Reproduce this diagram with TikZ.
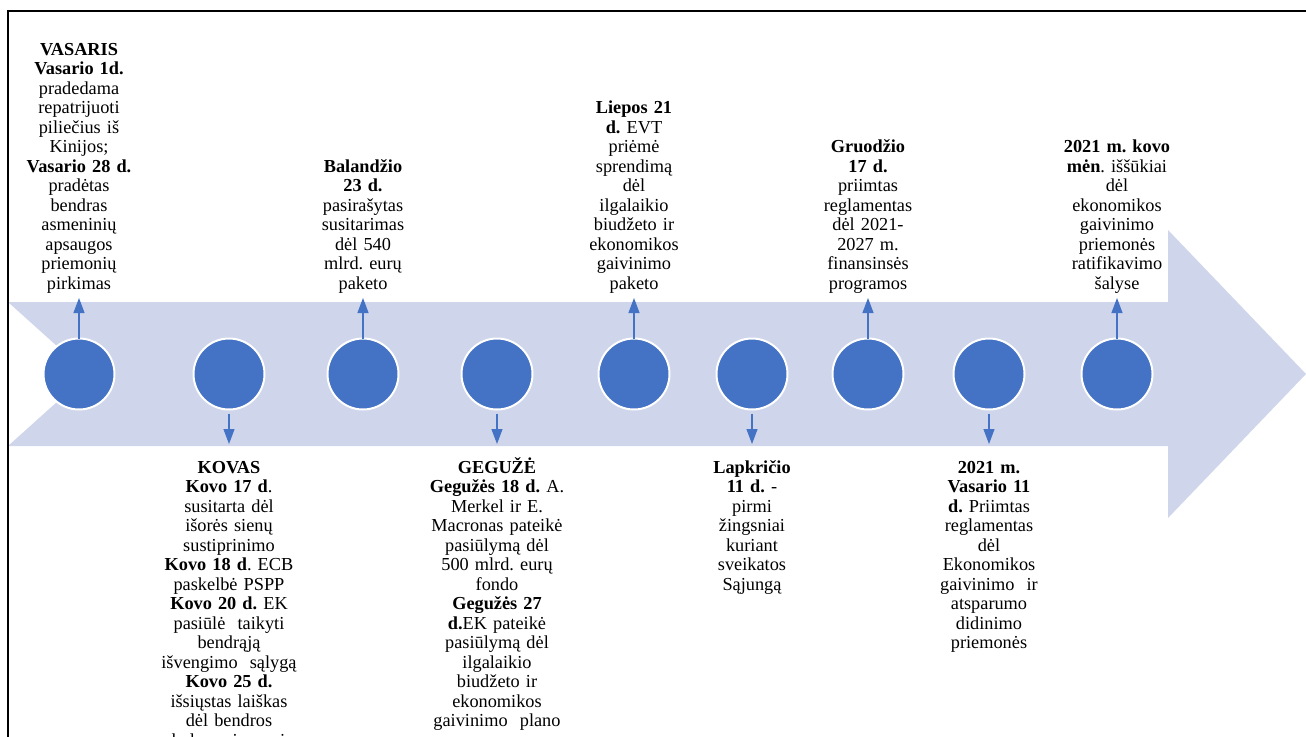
\documentclass[tikz,border=0pt]{standalone}
\usepackage{fontspec}
\setmainfont{Liberation Serif}
\usetikzlibrary{arrows.meta}
\definecolor{bandc}{HTML}{CFD5EA}
\definecolor{dotc}{HTML}{4472C4}
\frenchspacing
\begin{document}
\begin{tikzpicture}[x=1pt,y=-1pt,
  dot/.style={circle,fill=dotc,draw=white,line width=2pt,minimum size=71pt,inner sep=0pt,outer sep=0pt},
  arr/.style={draw=dotc,line width=1.1pt,-{Triangle[width=11pt,length=15pt]}},
  txt/.style={text width=200pt,execute at begin node=\centering\frenchspacing,inner sep=0pt,anchor=base,font=\fontsize{18.3}{19.5}\selectfont}]
\clip (0,0) rectangle (1306,736);
% band arrow
\fill[bandc] (8,302) -- (1168,302) -- (1168,230) -- (1306,374) -- (1168,518) -- (1168,446) -- (8,446) -- (88,374) -- cycle;
% frame
\draw[line width=1.5pt] (8,737) -- (8,11) -- (1310,11);
% circles
\node[dot] (c1) at (79,374) {};
\node[dot] (c2) at (229,374) {};
\node[dot] (c3) at (363,374) {};
\node[dot] (c4) at (497,374) {};
\node[dot] (c5) at (634,374) {};
\node[dot] (c6) at (752,374) {};
\node[dot] (c7) at (868,374) {};
\node[dot] (c8) at (989,374) {};
\node[dot] (c9) at (1117,374) {};
% arrow tips
\coordinate (t1) at (79,298);
\coordinate (t3) at (363,298);
\coordinate (t5) at (634,298);
\coordinate (t7) at (868,298);
\coordinate (t9) at (1117,298);
\coordinate (t2) at (229,444);
\coordinate (t4) at (497,444);
\coordinate (t6) at (752,444);
\coordinate (t8) at (989,444);
\draw[arr] (c1) -- (t1);
\draw[arr] (c3) -- (t3);
\draw[arr] (c5) -- (t5);
\draw[arr] (c7) -- (t7);
\draw[arr] (c9) -- (t9);
\draw[arr,shorten <=4pt] (c2) -- (t2);
\draw[arr,shorten <=4pt] (c4) -- (t4);
\draw[arr,shorten <=4pt] (c6) -- (t6);
\draw[arr,shorten <=4pt] (c8) -- (t8);
% texts top
\node[txt] (l1) at (79,55) {\textbf{VASARIS}\\\textbf{Vasario 1d.}\\pradedama\\repatrijuoti\\piliečius iš\\Kinijos;\\\textbf{Vasario 28 d.}\\pradėtas\\bendras\\asmeninių\\apsaugos\\priemonių\\pirkimas};
\node[txt] (l3) at (363,172) {\textbf{Balandžio}\\\textbf{23 d.}\\pasirašytas\\susitarimas\\dėl 540\\mlrd. eurų\\paketo};
\node[txt] (l5) at (634,113.5) {\textbf{Liepos 21}\\\textbf{d.} EVT\\priėmė\\sprendimą\\dėl\\ilgalaikio\\biudžeto ir\\ekonomikos\\gaivinimo\\paketo};
\node[txt] (l7) at (868,152.5) {\textbf{Gruodžio}\\\textbf{17 d.}\\priimtas\\reglamentas\\dėl 2021-\\2027 m.\\finansinsės\\programos};
\node[txt] (l9) at (1117,152.5) {\textbf{2021 m. kovo}\\\textbf{mėn}. iššūkiai\\dėl\\ekonomikos\\gaivinimo\\priemonės\\ratifikavimo\\šalyse};
% texts bottom
\node[txt] (l2) at (229,473) {\textbf{KOVAS}\\\textbf{Kovo 17 d}.\\susitarta dėl\\išorės sienų\\sustiprinimo\\\textbf{Kovo 18 d}. ECB\\paskelbė PSPP\\\textbf{Kovo 20 d.} EK\\pasiūlė\ \ taikyti\\bendrąją\\išvengimo\ \ sąlygą\\\textbf{Kovo 25 d.}\\išsiųstas laiškas\\dėl bendros\\skolos priemonės};
\node[txt] (l4) at (497,473) {\textbf{GEGUŽĖ}\\\textbf{Gegužės 18 d.} A.\\Merkel ir E.\\Macronas pateikė\\pasiūlymą dėl\\500 mlrd. eurų\\fondo\\\textbf{Gegužės 27}\\\textbf{d.}EK pateikė\\pasiūlymą dėl\\ilgalaikio\\biudžeto ir\\ekonomikos\\gaivinimo\ \ plano};
\node[txt] (l6) at (752,473) {\textbf{Lapkričio}\\\textbf{11 d.} -\\pirmi\\žingsniai\\kuriant\\sveikatos\\Sąjungą};
\node[txt] (l8) at (989,473) {\textbf{2021 m.}\\\textbf{Vasario 11}\\\textbf{d.} Priimtas\\reglamentas\\dėl\\Ekonomikos\\gaivinimo\ \ ir\\atsparumo\\didinimo\\priemonės};
\end{tikzpicture}
\end{document}
